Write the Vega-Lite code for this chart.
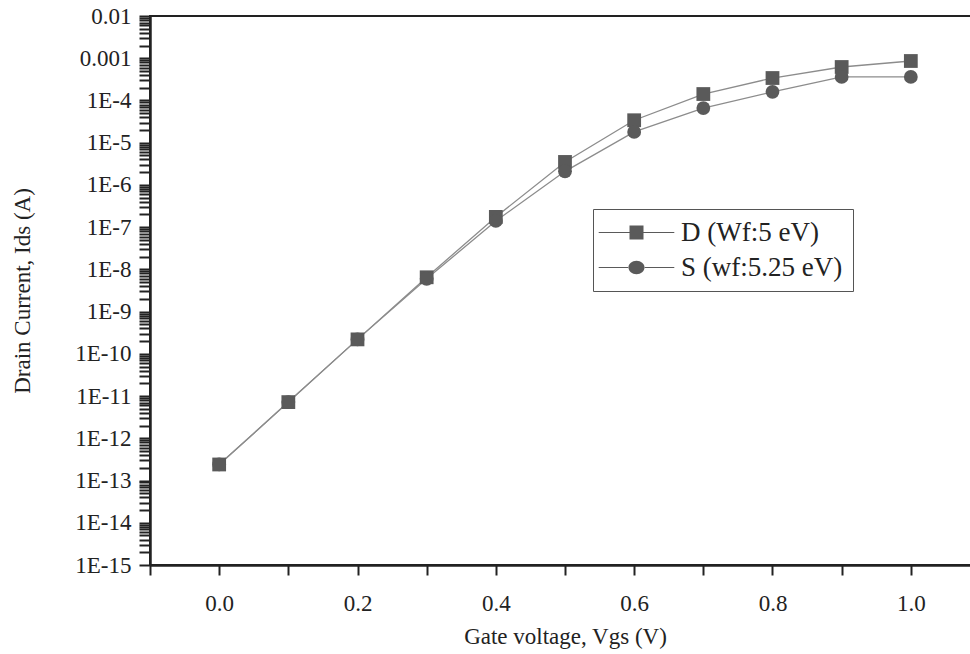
{
  "$schema": "https://vega.github.io/schema/vega-lite/v6.json",
  "width": 830,
  "height": 549,
  "autosize": {"type": "none"},
  "padding": {"left": 150, "top": 16, "right": 0, "bottom": 89},
  "background": "white",
  "config": {
    "font": "Liberation Serif",
    "view": {"stroke": "#222", "strokeWidth": 2},
    "axis": {
      "grid": false,
      "domainColor": "#222",
      "domainWidth": 2.5,
      "tickColor": "#222",
      "tickWidth": 2,
      "labelFont": "Liberation Serif",
      "labelColor": "#222",
      "labelFontSize": 23,
      "titleFont": "Liberation Serif",
      "titleFontSize": 23,
      "titleFontWeight": "normal",
      "titleColor": "#222"
    }
  },
  "data": {
    "values": [
      {"series": "D (Wf:5 eV)", "vgs": 0.0, "ids": 2.4e-13},
      {"series": "D (Wf:5 eV)", "vgs": 0.1, "ids": 7.2e-12},
      {"series": "D (Wf:5 eV)", "vgs": 0.2, "ids": 2.2e-10},
      {"series": "D (Wf:5 eV)", "vgs": 0.3, "ids": 6.5e-9},
      {"series": "D (Wf:5 eV)", "vgs": 0.4, "ids": 1.75e-7},
      {"series": "D (Wf:5 eV)", "vgs": 0.5, "ids": 3.5e-6},
      {"series": "D (Wf:5 eV)", "vgs": 0.6, "ids": 3.4e-5},
      {"series": "D (Wf:5 eV)", "vgs": 0.7, "ids": 1.42e-4},
      {"series": "D (Wf:5 eV)", "vgs": 0.8, "ids": 3.4e-4},
      {"series": "D (Wf:5 eV)", "vgs": 0.9, "ids": 6.2e-4},
      {"series": "D (Wf:5 eV)", "vgs": 1.0, "ids": 8.6e-4},
      {"series": "S (wf:5.25 eV)", "vgs": 0.0, "ids": 2.4e-13},
      {"series": "S (wf:5.25 eV)", "vgs": 0.1, "ids": 7.2e-12},
      {"series": "S (wf:5.25 eV)", "vgs": 0.2, "ids": 2.2e-10},
      {"series": "S (wf:5.25 eV)", "vgs": 0.3, "ids": 6.0e-9},
      {"series": "S (wf:5.25 eV)", "vgs": 0.4, "ids": 1.4e-7},
      {"series": "S (wf:5.25 eV)", "vgs": 0.5, "ids": 2.1e-6},
      {"series": "S (wf:5.25 eV)", "vgs": 0.6, "ids": 1.8e-5},
      {"series": "S (wf:5.25 eV)", "vgs": 0.7, "ids": 6.6e-5},
      {"series": "S (wf:5.25 eV)", "vgs": 0.8, "ids": 1.6e-4},
      {"series": "S (wf:5.25 eV)", "vgs": 0.9, "ids": 3.6e-4},
      {"series": "S (wf:5.25 eV)", "vgs": 1.0, "ids": 3.6e-4}
    ]
  },
  "encoding": {
    "x": {
      "field": "vgs",
      "type": "quantitative",
      "scale": {"domain": [-0.1, 1.1], "nice": false, "zero": false},
      "axis": {
        "title": "Gate voltage, Vgs (V)",
        "values": [-0.1, 0, 0.1, 0.2, 0.3, 0.4, 0.5, 0.6, 0.7, 0.8, 0.9, 1.0],
        "labelExpr": "(round(datum.value*10) % 2 == 0 && datum.value > -0.05) ? format(datum.value, '.1f') : ''",
        "tickSize": 10,
        "labelPadding": 17,
        "titlePadding": 10,
        "encode": {"ticks": {"update": {"y2": {"signal": "round(datum.value*10) % 2 == 0 ? 10 : 5"}}}}
      }
    },
    "y": {
      "field": "ids",
      "type": "quantitative",
      "scale": {"type": "log", "domain": [1e-15, 0.01], "nice": false},
      "axis": {
        "title": "Drain Current, Ids (A)",
        "values": [1e-15, 2e-15, 3e-15, 4e-15, 5e-15, 6e-15, 7e-15, 8e-15, 9e-15,
                   1e-14, 2e-14, 3e-14, 4e-14, 5e-14, 6e-14, 7e-14, 8e-14, 9e-14,
                   1e-13, 2e-13, 3e-13, 4e-13, 5e-13, 6e-13, 7e-13, 8e-13, 9e-13,
                   1e-12, 2e-12, 3e-12, 4e-12, 5e-12, 6e-12, 7e-12, 8e-12, 9e-12,
                   1e-11, 2e-11, 3e-11, 4e-11, 5e-11, 6e-11, 7e-11, 8e-11, 9e-11,
                   1e-10, 2e-10, 3e-10, 4e-10, 5e-10, 6e-10, 7e-10, 8e-10, 9e-10,
                   1e-9, 2e-9, 3e-9, 4e-9, 5e-9, 6e-9, 7e-9, 8e-9, 9e-9,
                   1e-8, 2e-8, 3e-8, 4e-8, 5e-8, 6e-8, 7e-8, 8e-8, 9e-8,
                   1e-7, 2e-7, 3e-7, 4e-7, 5e-7, 6e-7, 7e-7, 8e-7, 9e-7,
                   1e-6, 2e-6, 3e-6, 4e-6, 5e-6, 6e-6, 7e-6, 8e-6, 9e-6,
                   1e-5, 2e-5, 3e-5, 4e-5, 5e-5, 6e-5, 7e-5, 8e-5, 9e-5,
                   1e-4, 2e-4, 3e-4, 4e-4, 5e-4, 6e-4, 7e-4, 8e-4, 9e-4,
                   1e-3, 2e-3, 3e-3, 4e-3, 5e-3, 6e-3, 7e-3, 8e-3, 9e-3,
                   1e-2],
        "labelExpr": "abs(log(datum.value)/LN10 - round(log(datum.value)/LN10)) < 0.001 ? (round(log(datum.value)/LN10) == -2 ? '0.01' : (round(log(datum.value)/LN10) == -3 ? '0.001' : '1E' + round(log(datum.value)/LN10))) : ''",
        "tickSize": 11,
        "labelPadding": 8,
        "titlePadding": 40,
        "labelBaseline": "middle",
        "encode": {"ticks": {"update": {"x2": {"signal": "abs(log(datum.value)/LN10 - round(log(datum.value)/LN10)) < 0.001 ? -11 : -6"}}}}
      }
    }
  },
  "layer": [
    {
      "mark": {"type": "line", "stroke": "#8c8c8c", "strokeWidth": 1.3},
      "encoding": {"detail": {"field": "series"}}
    },
    {
      "transform": [{"filter": "datum.series == 'D (Wf:5 eV)'"}],
      "mark": {"type": "point", "shape": "square", "filled": true, "opacity": 1, "fill": "#5a5a5a", "size": 190}
    },
    {
      "transform": [{"filter": "datum.series == 'S (wf:5.25 eV)'"}],
      "mark": {"type": "point", "shape": "circle", "filled": true, "opacity": 1, "fill": "#5a5a5a", "size": 190}
    },
    {
      "mark": {"type": "point", "filled": true, "opacity": 0, "fill": "#5a5a5a", "size": 196},
      "encoding": {
        "shape": {
          "field": "series",
          "type": "nominal",
          "scale": {
            "domain": ["D (Wf:5 eV)", "S (wf:5.25 eV)"],
            "range": [
              "M-5.4,-0.08H-1V0.08H-5.4Z M1,-0.08H5.4V0.08H1Z M-1,-1H1V1H-1Z",
              "M-5.4,-0.08H-1.1V0.08H-5.4Z M1.1,-0.08H5.4V0.08H1.1Z M-1.15,0A1.15,0.95 0 1,0 1.15,0A1.15,0.95 0 1,0 -1.15,0Z"
            ]
          },
          "legend": {
            "orient": "none",
            "legendX": 443,
            "legendY": 193,
            "title": null,
            "strokeColor": "#555",
            "fillColor": "white",
            "padding": 10,
            "labelFont": "Liberation Serif",
            "labelFontSize": 27,
            "labelLimit": 400,
            "labelColor": "#222",
            "symbolSize": 196,
            "symbolOpacity": 1,
            "symbolFillColor": "#5a5a5a",
            "symbolStrokeWidth": 0,
            "symbolOffset": 20,
            "labelOffset": 31,
            "rowPadding": 7
          }
        }
      }
    }
  ]
}
